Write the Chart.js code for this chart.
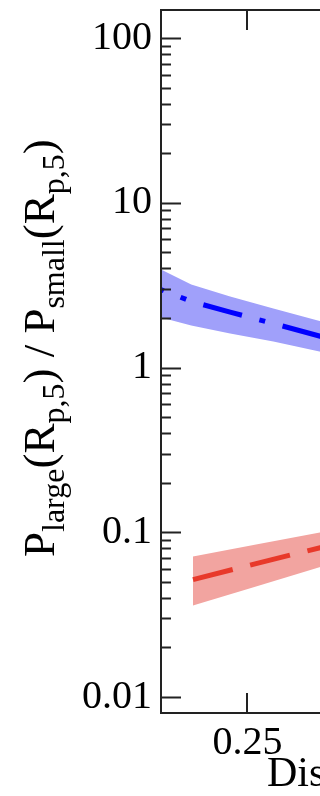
<!DOCTYPE html>
<html>
<head>
<meta charset="utf-8">
<script src="https://cdn.jsdelivr.net/npm/chart.js@4.4.0/dist/chart.umd.min.js"></script>
<style>
  body { margin: 0; background: #fff; }
  #wrap { width: 320px; height: 796px; overflow: hidden; }
</style>
</head>
<body>
<div id="wrap"><canvas id="myChart" width="636" height="796"></canvas></div>
<script>
// x positions (distance)
var blueX = [0.15, 0.185, 0.23, 0.28, 0.34];
var blueMid = [2.97, 2.52, 2.17, 1.85, 1.52];
var blueUpper = [3.93, 3.19, 2.70, 2.28, 1.88];
var blueLower = [2.01, 1.80, 1.61, 1.44, 1.23];

var redX = [0.187, 0.26, 0.34];
var redMid = [0.0516, 0.0646, 0.082];
var redUpper = [0.0713, 0.0843, 0.101];
var redLower = [0.0359, 0.0469, 0.0629];

var xTicks = [0.25, 0.5];
var yTicks = [0.01, 0.1, 1, 10, 100];
var yTickLabels = ['0.01', '0.1', '1', '10', '100'];

function pts(xs, ys) {
  return xs.map(function (x, i) { return { x: x, y: ys[i] }; });
}

// minor ticks for the log axis
var yAllTicks = [];
yTicks.forEach(function (d) {
  for (var k = 1; k < 10; k++) yAllTicks.push(d * k);
});

var serif = 'Liberation Serif';

// frame + inward ticks, like the original plot
var framePlugin = {
  id: 'frame',
  afterDatasetsDraw: function (chart) {
    var ctx = chart.ctx, a = chart.chartArea;
    var xs = chart.scales.x, ys = chart.scales.y;
    ctx.save();
    ctx.strokeStyle = '#222';
    ctx.lineWidth = 2;
    ctx.strokeRect(a.left, a.top, a.right - a.left, a.bottom - a.top);
    ctx.beginPath();
    ys.ticks.forEach(function (t) {
      var py = Math.round(ys.getPixelForValue(t.value)) + 0.5;
      if (py < a.top || py > a.bottom) return;
      var len = yTicks.indexOf(t.value) >= 0 ? 20 : 10;
      ctx.moveTo(a.left, py); ctx.lineTo(a.left + len, py);
      ctx.moveTo(a.right, py); ctx.lineTo(a.right - len, py);
    });
    xs.ticks.forEach(function (t) {
      var px = Math.round(xs.getPixelForValue(t.value));
      ctx.moveTo(px, a.bottom); ctx.lineTo(px, a.bottom - 20);
      ctx.moveTo(px, a.top); ctx.lineTo(px, a.top + 20);
    });
    ctx.stroke();
    ctx.restore();
  }
};

// y title with subscripts
var yTitlePlugin = {
  id: 'ytitle',
  afterDraw: function (chart) {
    var ctx = chart.ctx;
    var parts = [
      ['P', 0], ['large', 1], ['(R', 0], ['p,5', 1], [')', 0], [' / ', 0],
      ['P', 0], ['small', 1], ['(R', 0], ['p,5', 1], [')', 0]
    ];
    ctx.save();
    ctx.translate(54, 557);
    ctx.rotate(-Math.PI / 2);
    ctx.fillStyle = '#000';
    ctx.textBaseline = 'alphabetic';
    var x = 0;
    parts.forEach(function (p) {
      ctx.font = (p[1] ? 32 : 45) + 'px "' + serif + '"';
      ctx.fillText(p[0], x, p[1] ? 10 : 0);
      x += ctx.measureText(p[0]).width;
    });
    ctx.restore();
  }
};

var ctx = document.getElementById('myChart').getContext('2d');
var chart = new Chart(ctx, {
  type: 'line',
  data: {
    datasets: [
      {
        label: 'blue',
        data: pts(blueX, blueMid),
        borderColor: '#0000ff',
        borderWidth: 5,
        borderDash: [40, 18, 6, 18],
        borderDashOffset: 37,
        pointRadius: 0,
        fill: false
      },
      {
        label: 'red',
        data: pts(redX, redMid),
        borderColor: '#e8392a',
        borderWidth: 5,
        borderDash: [41, 18],
        pointRadius: 0,
        fill: false
      },
      {
        label: 'blue upper',
        data: pts(blueX, blueUpper),
        borderWidth: 0,
        pointRadius: 0,
        backgroundColor: '#a0a0fa',
        fill: '+1'
      },
      {
        label: 'blue lower',
        data: pts(blueX, blueLower),
        borderWidth: 0,
        pointRadius: 0,
        fill: false
      },
      {
        label: 'red upper',
        data: pts(redX, redUpper),
        borderWidth: 0,
        pointRadius: 0,
        backgroundColor: '#f2a4a0',
        fill: '+1'
      },
      {
        label: 'red lower',
        data: pts(redX, redLower),
        borderWidth: 0,
        pointRadius: 0,
        fill: false
      }
    ]
  },
  options: {
    responsive: false,
    animation: false,
    devicePixelRatio: 1,
    layout: { padding: { top: 10, right: 17, left: 0, bottom: 0 } },
    plugins: { legend: { display: false }, tooltip: { enabled: false } },
    scales: {
      x: {
        type: 'linear',
        min: 0.15,
        max: 0.68,
        grid: { display: false, drawTicks: false },
        border: { display: false },
        afterBuildTicks: function (s) {
          s.ticks = xTicks.map(function (v) { return { value: v }; });
        },
        afterFit: function (s) {
          s.height = 83;
          s.paddingLeft = 0;
          s.paddingRight = 0;
        },
        ticks: {
          autoSkip: false,
          maxRotation: 0,
          padding: 6,
          color: '#000',
          font: { family: serif, size: 40 },
          callback: function (v) { return String(v); }
        },
        title: {
          display: true,
          text: 'Distance (AU)',
          color: '#000',
          font: { family: serif, size: 42, lineHeight: 1.0 },
          padding: 0
        }
      },
      y: {
        type: 'logarithmic',
        min: 0.008,
        max: 148,
        grid: { display: false, drawTicks: false },
        border: { display: false },
        afterBuildTicks: function (s) {
          s.ticks = yAllTicks.map(function (v) { return { value: v }; });
        },
        afterFit: function (s) {
          s.width = 161;
          s.paddingTop = 0;
          s.paddingBottom = 0;
        },
        ticks: {
          autoSkip: false,
          padding: 9,
          color: '#000',
          font: { family: serif, size: 40 },
          callback: function (v) {
            var i = yTicks.indexOf(v);
            return i >= 0 ? yTickLabels[i] : '';
          }
        }
      }
    }
  },
  plugins: [framePlugin, yTitlePlugin]
});
</script>
</body>
</html>
